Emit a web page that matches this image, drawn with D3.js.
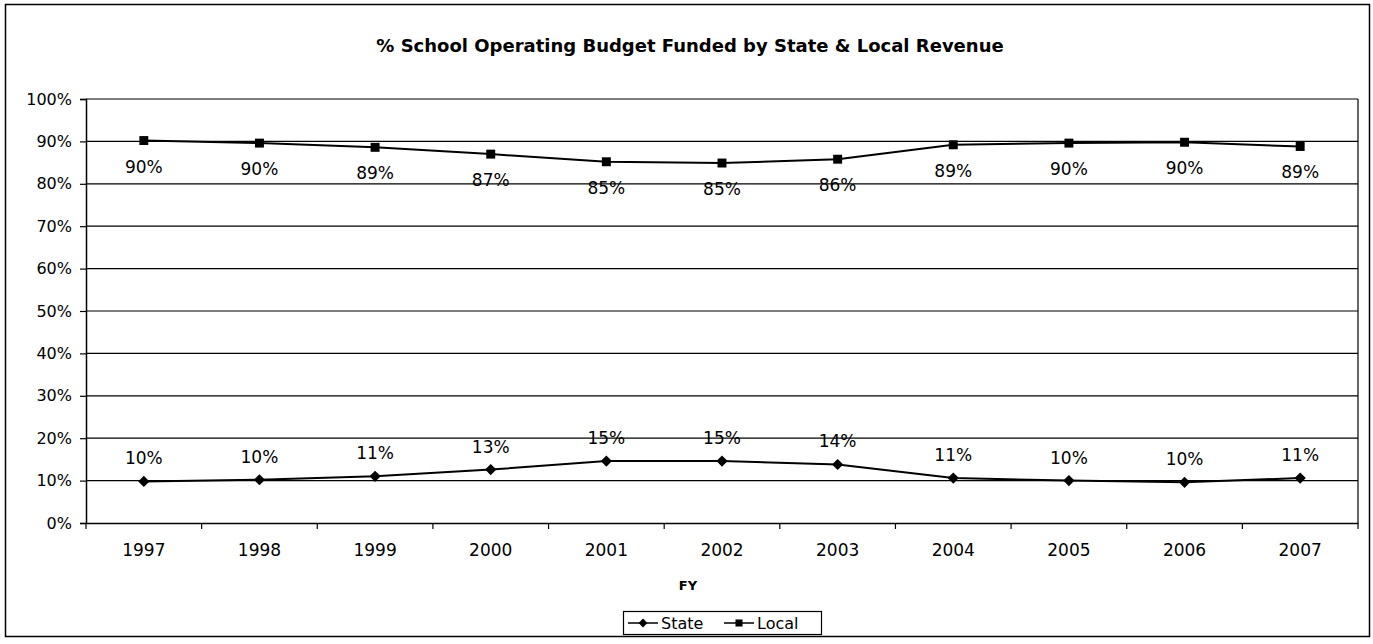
<!DOCTYPE html>
<html>
<head>
<meta charset="utf-8">
<script src="https://cdn.jsdelivr.net/npm/d3@7"></script>
<style>
html,body{margin:0;padding:0;background:#fff;}
text{font-family:"DejaVu Sans",Verdana,sans-serif;fill:#000;}
</style>
</head>
<body>
<svg id="chart" width="1373" height="644"></svg>
<script>
const title = "% School Operating Budget Funded by State & Local Revenue";
const xTitle = "FY";
const years = ["1997","1998","1999","2000","2001","2002","2003","2004","2005","2006","2007"];
const stateValues = [9.8, 10.2, 11.0, 12.6, 14.6, 14.6, 13.8, 10.6, 10.0, 9.6, 10.6];
const localValues = [90.2, 89.6, 88.6, 87.0, 85.2, 84.9, 85.8, 89.2, 89.6, 89.8, 88.8];
const yTicks = [0,10,20,30,40,50,60,70,80,90,100];
const seriesNames = ["State","Local"];

const svg = d3.select("#chart");
const plot = {left:86, right:1358, top:99, bottom:523};

// outer frame
svg.append("rect").attr("x",5.5).attr("y",4.5).attr("width",1364).attr("height",632)
  .attr("fill","none").attr("stroke","#000").attr("stroke-width",1.5);

const x = d3.scaleBand().domain(years).range([plot.left, plot.right]).padding(0);
const y = d3.scaleLinear().domain([0,100]).range([plot.bottom, plot.top]);

// gridlines
svg.append("g").selectAll("line").data(yTicks.filter(d=>d>0)).join("line")
  .attr("x1",plot.left).attr("x2",plot.right)
  .attr("y1",d=>y(d)).attr("y2",d=>y(d))
  .attr("stroke","#000").attr("stroke-width",1.2);
// right border of plot
svg.append("line").attr("x1",plot.right).attr("x2",plot.right)
  .attr("y1",plot.top).attr("y2",plot.bottom).attr("stroke","#000").attr("stroke-width",1.2);

// y axis
const yAxis = d3.axisLeft(y).tickValues(yTicks).tickFormat(d=>d+"%").tickSize(6).tickPadding(8);
const gy = svg.append("g").attr("transform",`translate(${plot.left},0)`).call(yAxis);
gy.select(".domain").attr("stroke","#000").attr("stroke-width",1.5);
gy.selectAll(".tick line").attr("stroke","#000").attr("stroke-width",1.2);
gy.selectAll(".tick text").attr("font-size",16).attr("fill","#000")
  .style("font-family","'DejaVu Sans',Verdana,sans-serif");

// x axis
const xAxis = d3.axisBottom(x).tickSize(0).tickPadding(21);
const gx = svg.append("g").attr("transform",`translate(0,${plot.bottom})`).call(xAxis);
gx.select(".domain").attr("stroke","#000").attr("stroke-width",1.5);
gx.selectAll(".tick text").attr("font-size",17).attr("fill","#000")
  .style("font-family","'DejaVu Sans',Verdana,sans-serif");
// ticks between categories
svg.append("g").selectAll("line").data(years.concat(["end"])).join("line")
  .attr("x1",(d,i)=> i<years.length ? x(d) : plot.right)
  .attr("x2",(d,i)=> i<years.length ? x(d) : plot.right)
  .attr("y1",plot.bottom).attr("y2",plot.bottom+6)
  .attr("stroke","#000").attr("stroke-width",1.2);

const cx = d => x(d) + x.bandwidth()/2;
const line = vals => d3.line().x((d,i)=>cx(years[i])).y(d=>y(d))(vals);

// lines
svg.append("path").attr("d",line(stateValues)).attr("fill","none").attr("stroke","#000").attr("stroke-width",2);
svg.append("path").attr("d",line(localValues)).attr("fill","none").attr("stroke","#000").attr("stroke-width",2);

// markers
const diamond = d3.symbol().type(d3.symbolDiamond2).size(80);
const square = d3.symbol().type(d3.symbolSquare).size(80);
svg.append("g").selectAll("path").data(stateValues).join("path")
  .attr("d",diamond).attr("transform",(d,i)=>`translate(${cx(years[i])},${y(d)})`).attr("fill","#000");
svg.append("g").selectAll("path").data(localValues).join("path")
  .attr("d",square).attr("transform",(d,i)=>`translate(${cx(years[i])},${y(d)})`).attr("fill","#000");

// data labels
const fmt = v => Math.round(v) + "%";
svg.append("g").selectAll("text").data(stateValues).join("text")
  .attr("x",(d,i)=>cx(years[i])).attr("y",d=>y(d)-17)
  .attr("text-anchor","middle").attr("font-size",17).text(fmt);
svg.append("g").selectAll("text").data(localValues).join("text")
  .attr("x",(d,i)=>cx(years[i])).attr("y",d=>y(d)+32)
  .attr("text-anchor","middle").attr("font-size",17).text(fmt);

// title
svg.append("text").attr("x",690).attr("y",52).attr("text-anchor","middle")
  .attr("font-size",18).attr("font-weight","bold").text(title);
// x title
svg.append("text").attr("x",688).attr("y",590).attr("text-anchor","middle")
  .attr("font-size",13).attr("font-weight","bold").text(xTitle);

// legend
const lg = svg.append("g");
lg.append("rect").attr("x",623.5).attr("y",611.5).attr("width",198).attr("height",23)
  .attr("fill","#fff").attr("stroke","#000").attr("stroke-width",1.2);
const items = [{name:seriesNames[0], sym:diamond, x0:628},{name:seriesNames[1], sym:square, x0:724}];
items.forEach(it=>{
  lg.append("line").attr("x1",it.x0).attr("x2",it.x0+30).attr("y1",623).attr("y2",623)
    .attr("stroke","#000").attr("stroke-width",1.5);
  lg.append("path").attr("d",d3.symbol().type(it.sym === diamond ? d3.symbolDiamond2 : d3.symbolSquare).size(50))
    .attr("transform",`translate(${it.x0+15},623)`).attr("fill","#000");
  lg.append("text").attr("x",it.x0+33).attr("y",628.5).attr("font-size",16).text(it.name);
});
</script>
</body>
</html>
